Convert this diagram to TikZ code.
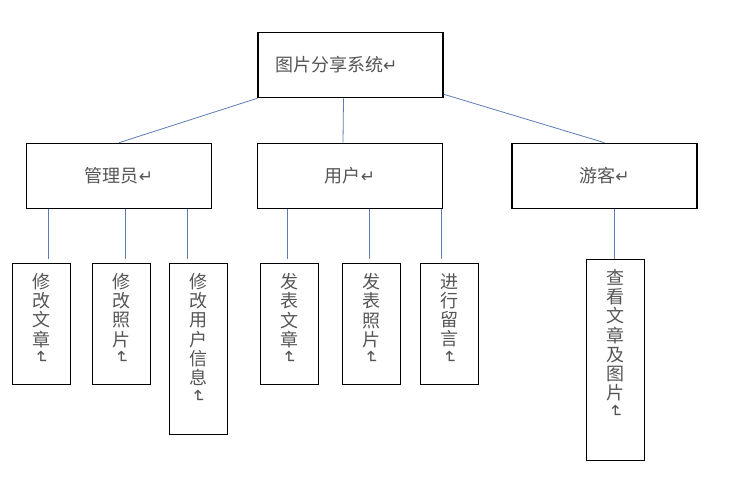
\documentclass[tikz,border=0pt]{standalone}
\usepackage{fontspec}
\usepackage{graphicx}
\usepackage{xcolor}
\usetikzlibrary{calc}
\newfontfamily\cjk{Noto Sans CJK SC}
\newfontfamily\symf{DejaVu Sans}
\definecolor{colLink}{HTML}{5B7DB5}
\definecolor{colText}{HTML}{555555}
% paragraph marks as printed in the source
\newcommand{\retmark}{{\symf\fontsize{17pt}{17pt}\selectfont ↵}}
\newcommand{\vretmark}{\rotatebox[origin=c]{-90}{\retmark}}
% top-aligned column of characters
\newcommand{\vcol}[2]{\parbox[t][#1][t]{24pt}{\centering #2}}
\tikzset{
  % first and second level boxes
  mainbox/.style={
    draw, line width=1.6pt, inner sep=0pt,
    minimum width=185pt, minimum height=65pt,
    font=\cjk\fontsize{18pt}{20pt}\selectfont, text=colText,
  },
  % function boxes with vertical text
  leafbox/.style={
    draw, line width=0.9pt, anchor=north,
    inner xsep=0pt, inner ysep=10pt, minimum width=58pt,
    font=\cjk\fontsize{18pt}{19.2pt}\selectfont, text=colText,
  },
  % connectors
  link/.style={draw=colLink, line width=0.8pt},
}

\begin{document}
\begin{tikzpicture}[x=1pt, y=-1pt]
\useasboundingbox (0,0) rectangle (733,478);

%% top level
\node[mainbox, inner xsep=17pt, text width=151pt, align=left] (sys) at (350.5,65) {图片分享系统\retmark};

%% roles
\node[mainbox] (admin) at (119,176) {管理员\retmark};
\node[mainbox] (user)  at (350,176) {用户\retmark};
\node[mainbox] (guest) at (604.5,176) {游客\retmark};

\draw[link] (sys.south west) -- (admin.north);
\draw[link] ([xshift=-7pt]sys.south) -- ([xshift=-7pt]user.north);
\draw[link] ([yshift=4pt]sys.south east) -- (guest.north);

%% functions
\node[leafbox] (a1) at (41,263)    {\vcol{101pt}{修\\改\\文\\章\\[-2pt]\vretmark}};
\node[leafbox] (a2) at (121.5,263) {\vcol{101pt}{修\\改\\照\\片\\[-2pt]\vretmark}};
\node[leafbox] (a3) at (198,263)   {\vcol{151pt}{修\\改\\用\\户\\信\\息\\[-2pt]\vretmark}};
\node[leafbox] (u1) at (289,263)   {\vcol{101pt}{发\\表\\文\\章\\[-2pt]\vretmark}};
\node[leafbox] (u2) at (371,263)   {\vcol{101pt}{发\\表\\照\\片\\[-2pt]\vretmark}};
\node[leafbox] (u3) at (449.5,263) {\vcol{101pt}{进\\行\\留\\言\\[-2pt]\vretmark}};
\node[leafbox] (g1) at (615.5,259) {\vcol{181pt}{查\\看\\文\\章\\及\\图\\片\\[-2pt]\vretmark}};

% hanging lines, offset from the box centres
\foreach \leaf/\up/\dx/\gap in {a1/admin/7/4, a2/admin/3.5/4, a3/admin/-11/4,
                                u1/user/-2/4, u2/user/-2/4, u3/user/-8.5/4,
                                g1/guest/-1.5/0}{
  \coordinate (\leaf-top) at ([xshift=\dx pt, yshift=\gap pt]\leaf.north);
  \draw[link] (\leaf-top) -- (\leaf-top |- \up.south);
}

\end{tikzpicture}
\end{document}
